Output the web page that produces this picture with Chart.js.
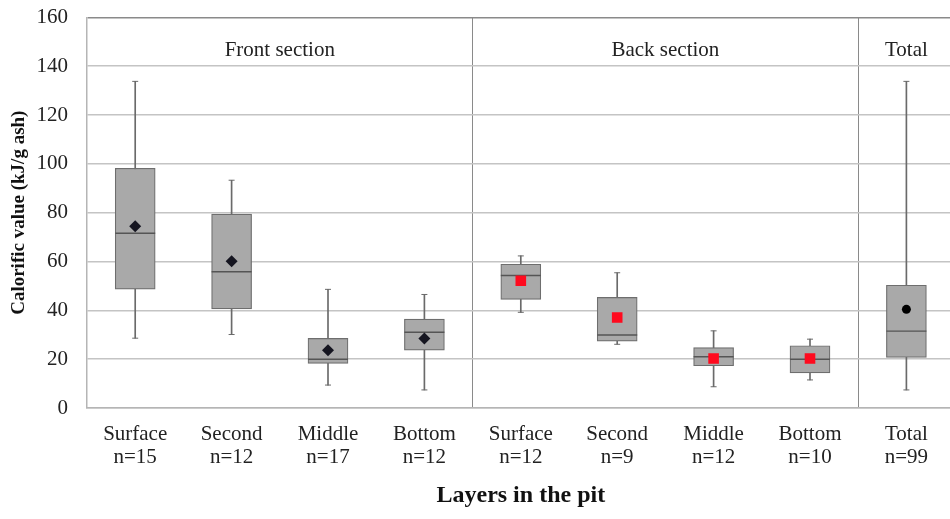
<!DOCTYPE html>
<html>
<head>
<meta charset="utf-8">
<script src="https://cdn.jsdelivr.net/npm/chart.js@4.4.1/dist/chart.umd.min.js"></script>
<style>
  html, body { margin: 0; padding: 0; background: #fff; overflow: hidden; }
  #c { position: absolute; left: 0; top: -4px; }
</style>
</head>
<body>
<canvas id="c" width="976" height="523"></canvas>
<script>
// ---- data ----
const categories  = ['Surface', 'Second', 'Middle', 'Bottom', 'Surface', 'Second', 'Middle', 'Bottom', 'Total'];
const counts      = [15, 12, 17, 12, 12, 9, 12, 10, 99];
const sectionOf   = [0, 0, 0, 0, 1, 1, 1, 1, 2];
const sectionNames = ['Front section', 'Back section', 'Total'];
const whiskerLow  = [28.6, 30.1, 9.4, 7.4, 39.2, 26.1, 8.7, 11.5, 7.4];
const q1          = [48.7, 40.6, 18.3, 23.7, 44.5, 27.4, 17.3, 14.4, 20.7];
const medians     = [71.6, 55.8, 20.0, 31.0, 54.3, 29.9, 21.0, 20.0, 31.5];
const q3          = [98.2, 79.4, 28.5, 36.4, 58.9, 45.3, 24.7, 25.5, 50.3];
const whiskerHigh = [133.8, 93.3, 48.6, 46.5, 62.3, 55.4, 31.6, 28.2, 133.8];
const means       = [74.5, 60.1, 23.7, 28.5, 52.1, 37.1, 20.3, 20.3, 40.4];
const yTicks      = [0, 20, 40, 60, 80, 100, 120, 140, 160];

const labels = categories.map((c, i) => [c, 'n=' + counts[i]]);
const meanFor = s => means.map((m, i) => sectionOf[i] === s ? m : null);

const SERIF = '"Liberation Serif", "DejaVu Serif", serif';

const sectionPlugin = {
  id: 'sections',
  afterDatasetsDraw(chart) {
    const x = chart.scales.x, y = chart.scales.y, ctx = chart.ctx;
    ctx.save();
    ctx.font = '21px ' + SERIF;
    ctx.fillStyle = '#222';
    ctx.textAlign = 'center';
    ctx.textBaseline = 'middle';
    sectionNames.forEach((name, s) => {
      const idx = sectionOf.map((v, i) => v === s ? i : -1).filter(i => i >= 0);
      const first = idx[0], last = idx[idx.length - 1];
      const half = (x.getPixelForValue(1) - x.getPixelForValue(0)) / 2;
      const cx = (x.getPixelForValue(first) - half + x.getPixelForValue(last) + half) / 2;
      ctx.fillText(name, cx, y.getPixelForValue(146.5));
    });
    ctx.restore();
  }
};

new Chart(document.getElementById('c'), {
  data: {
    labels: labels,
    datasets: [
      { type: 'bar', label: 'whisker', data: whiskerLow.map((v, i) => [v, whiskerHigh[i]]),
        backgroundColor: '#6a6a6a', barThickness: 1, grouped: false, order: 10 },
      { type: 'bar', label: 'box', data: q1.map((v, i) => [v, q3[i]]),
        backgroundColor: '#a9a9a9', borderColor: '#6e6e6e', borderWidth: 1.2, borderSkipped: false,
        barThickness: 40, grouped: false, order: 8 },
      { type: 'line', label: 'median', data: medians, showLine: false,
        pointStyle: 'line', pointRadius: 20, pointBorderWidth: 1.4, pointBorderColor: '#555',
        pointBackgroundColor: '#555', order: 5 },
      { type: 'line', label: 'capHigh', data: whiskerHigh, showLine: false,
        pointStyle: 'line', pointRadius: 3, pointBorderWidth: 1, pointBorderColor: '#6a6a6a', order: 5 },
      { type: 'line', label: 'capLow', data: whiskerLow, showLine: false,
        pointStyle: 'line', pointRadius: 3, pointBorderWidth: 1, pointBorderColor: '#6a6a6a', order: 5 },
      { type: 'line', label: 'meanFront', data: meanFor(0), showLine: false,
        pointStyle: 'rectRot', pointRadius: 6, pointBackgroundColor: '#151520', pointBorderColor: '#151520',
        pointBorderWidth: 0, order: 1 },
      { type: 'line', label: 'meanBack', data: meanFor(1), showLine: false,
        pointStyle: 'rect', pointRadius: 7.5, pointBackgroundColor: '#ff0a1e', pointBorderColor: '#ff0a1e',
        pointBorderWidth: 0, order: 1 },
      { type: 'line', label: 'meanTotal', data: meanFor(2), showLine: false,
        pointStyle: 'circle', pointRadius: 4.5, pointBackgroundColor: '#000', pointBorderColor: '#000',
        pointBorderWidth: 0, order: 1 }
    ]
  },
  options: {
    responsive: false,
    animation: false,
    events: [],
    layout: { padding: { top: 12, right: 3, bottom: 0, left: 0 } },
    plugins: { legend: { display: false }, tooltip: { enabled: false } },
    scales: {
      x: {
        type: 'category',
        offset: true,
        grid: {
          offset: true,
          drawTicks: false,
          lineWidth: 1,
          color: ctx => (ctx.index === 4 || ctx.index === 8) ? '#8a8a8a' : 'rgba(0,0,0,0)'
        },
        border: { display: true, color: '#b5b5b5', width: 1.5 },
        ticks: {
          autoSkip: false, maxRotation: 0, minRotation: 0, padding: 15,
          color: '#222', font: { family: SERIF, size: 21, lineHeight: 1.1 }
        },
        title: {
          display: true, text: 'Layers in the pit', color: '#111',
          font: { family: SERIF, size: 24, weight: 'bold' }, padding: { top: 0, bottom: 9 }
        },
        afterFit: s => { s.height = 111; s.paddingLeft = 0; s.paddingRight = 0; }
      },
      y: {
        min: 0, max: 160,
        afterBuildTicks: s => { s.ticks = yTicks.map(v => ({ value: v })); },
        grid: {
          drawTicks: false,
          lineWidth: 1.5,
          color: ctx => (ctx.tick && ctx.tick.value === 160) ? '#8a8a8a' : '#c4c4c4'
        },
        border: { display: true, color: '#b5b5b5', width: 1.5 },
        ticks: { padding: 19, color: '#222', font: { family: SERIF, size: 21 } },
        title: {
          display: true, text: 'Calorific value (kJ/g ash)', color: '#111',
          font: { family: SERIF, size: 19, weight: 'bold' }, padding: { top: 8, bottom: 0 }
        },
        afterFit: s => { s.width = 87; s.paddingTop = 0; s.paddingBottom = 0; }
      }
    }
  },
  plugins: [sectionPlugin]
});
</script>
</body>
</html>
